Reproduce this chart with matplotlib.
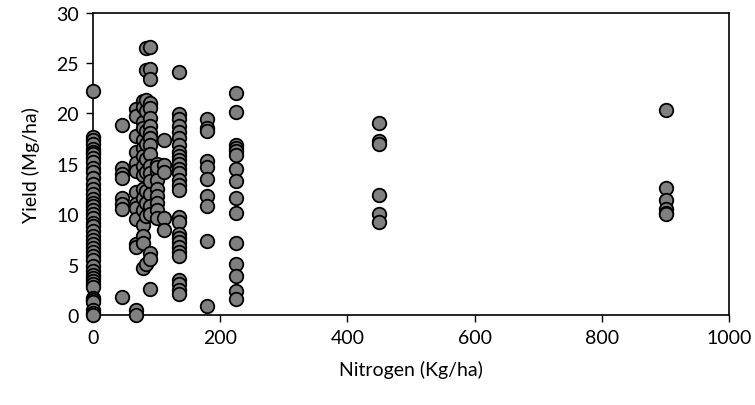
import matplotlib.pyplot as plt

# nitrogen rate (kg/ha) and yield (Mg/ha)
n_0 = [0] * 44
y_0 = [22.2, 17.7, 17.4, 17.0, 16.5, 16.2, 16.0, 15.6, 15.2, 14.6, 14.2, 13.6,
       13.0, 12.5, 12.0, 11.5, 11.1, 10.8, 10.4, 10.0, 9.6, 9.1, 8.8, 8.3,
       7.8, 7.4, 7.0, 6.6, 6.2, 5.8, 5.4, 4.9, 4.4, 4.0, 3.7, 3.4, 3.1, 2.8,
       1.7, 1.5, 1.3, 0.5, 0.2, 0.0]

n_45 = [45] * 8
y_45 = [18.9, 14.6, 14.0, 13.6, 11.6, 11.0, 10.5, 1.8]

n_67 = [67] * 14
y_67 = [20.4, 19.8, 17.8, 16.2, 15.1, 14.3, 12.2, 11.0, 10.6, 9.5, 7.0, 6.7,
        0.5, 0.0]

n_78 = [78] * 16
y_78 = [21.2, 20.6, 19.2, 18.6, 17.4, 16.6, 15.8, 14.8, 13.9, 12.5, 11.6, 10.4,
        8.9, 7.8, 7.1, 4.7]

n_84 = [84] * 12
y_84 = [26.5, 24.3, 21.3, 20.2, 18.3, 17.0, 15.5, 14.2, 12.3, 11.1, 9.8, 5.1]

n_90 = [90] * 20
y_90 = [26.6, 24.4, 23.4, 21.0, 20.5, 19.6, 18.8, 18.1, 17.6, 16.9, 16.0, 14.8,
        14.1, 13.3, 12.0, 10.8, 10.0, 6.1, 5.5, 2.6]

n_100 = [100] * 9
y_100 = [15.0, 14.3, 13.4, 12.5, 11.8, 11.1, 10.4, 9.6, 14.7]

n_112 = [112] * 5
y_112 = [17.4, 14.9, 14.2, 9.6, 8.4]

n_135 = [135] * 28
y_135 = [24.1, 19.9, 19.5, 18.8, 18.2, 17.6, 16.9, 16.2, 15.8, 15.4, 15.0, 14.5,
         14.1, 13.4, 12.9, 12.4, 9.7, 9.2, 8.0, 7.6, 7.2, 6.7, 6.2, 5.8, 3.5,
         3.1, 2.5, 2.1]

n_180 = [180] * 10
y_180 = [19.5, 18.6, 18.3, 15.3, 14.7, 13.5, 11.8, 10.8, 7.3, 0.9]

n_225 = [225] * 15
y_225 = [22.0, 20.1, 16.9, 16.6, 16.3, 15.9, 14.5, 13.3, 11.6, 10.1, 7.1, 5.1,
         3.9, 2.4, 1.6]

n_450 = [450] * 6
y_450 = [19.1, 17.3, 17.0, 11.9, 10.0, 9.2]

n_900 = [900] * 6
y_900 = [20.3, 12.6, 11.4, 10.5, 10.1, 10.0]

nitrogen = n_0 + n_45 + n_67 + n_78 + n_84 + n_90 + n_100 + n_112 + n_135 + n_180 + n_225 + n_450 + n_900
yields = y_0 + y_45 + y_67 + y_78 + y_84 + y_90 + y_100 + y_112 + y_135 + y_180 + y_225 + y_450 + y_900

plt.rcParams['font.family'] = ['Lato', 'DejaVu Sans']

fig = plt.figure(figsize=(7.55, 4.06), dpi=100)
ax = fig.add_axes([0.123, 0.222, 0.843, 0.744])

ax.scatter(nitrogen, yields, s=95, c='#808080', edgecolors='black', linewidths=1.3,
           zorder=3, clip_on=False)

ax.set_xlim(0, 1000)
ax.set_ylim(0, 30)
ax.set_xticks(range(0, 1001, 200))
ax.set_yticks(range(0, 31, 5))
ax.tick_params(direction='out', length=5, width=1, labelsize=14, color='black', pad=5)
for sp in ax.spines.values():
    sp.set_linewidth(1.2)

ax.set_xlabel('Nitrogen (Kg/ha)', fontsize=14, labelpad=10)
ax.set_ylabel('Yield (Mg/ha)', fontsize=14, labelpad=12)

fig.savefig('out.png', dpi=100)
